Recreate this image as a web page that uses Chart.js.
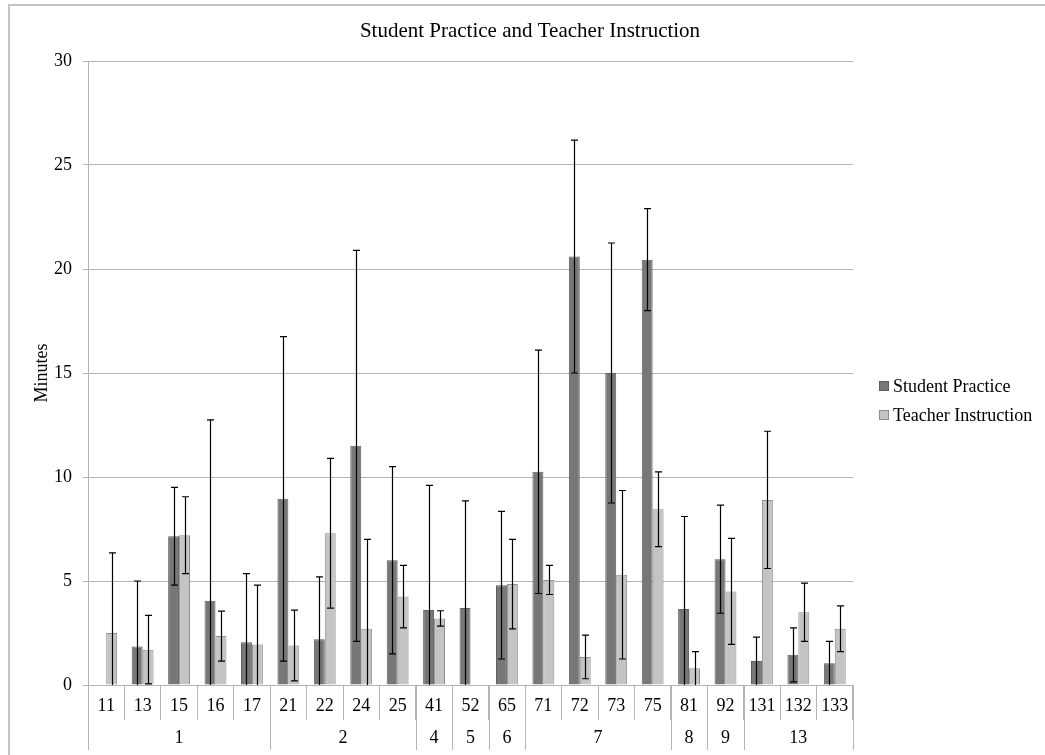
<!DOCTYPE html>
<html>
<head>
<meta charset="utf-8">
<script src="https://cdn.jsdelivr.net/npm/chart.js@4.4.1/dist/chart.umd.min.js"></script>
<style>
html,body{margin:0;padding:0;background:#fff}
#wrap{width:1045px;height:755px;position:relative}
</style>
</head>
<body>
<div id="wrap"><canvas id="c" width="1045" height="755"></canvas></div>
<script>
// categories (teacher id) and their groups (school)
const codes=['11','13','15','16','17','21','22','24','25','41','52','65','71','72','73','75','81','92','131','132','133'];
const groups=[['1',5],['2',4],['4',1],['5',1],['6',1],['7',4],['8',1],['9',1],['13',3]];
// means (minutes)
const practice=[null,1.85,7.15,4.05,2.05,8.95,2.2,11.5,6.0,3.6,3.7,4.8,10.25,20.6,15.0,20.45,3.65,6.05,1.15,1.45,1.05];
const instruction=[2.5,1.7,7.2,2.35,1.95,1.9,7.3,2.7,4.25,3.2,null,4.85,5.05,1.35,5.3,8.45,0.8,4.5,8.9,3.5,2.7];
// error bar half widths
const practiceErr=[null,3.15,2.35,8.7,3.3,7.8,3.0,9.4,4.5,6.0,5.15,3.55,5.85,5.6,6.25,2.45,4.45,2.6,1.15,1.3,1.05];
const instructionErr=[3.85,1.65,1.85,1.2,2.85,1.7,3.6,4.3,1.5,0.37,null,2.15,0.7,1.05,4.05,1.8,0.8,2.55,3.3,1.4,1.1];

const SERIF="'Liberation Serif','DejaVu Serif',serif";
const GRID='#b4b4b4';
const TITLE='Student Practice and Teacher Instruction';

const errorBars={
  id:'errorBars',
  afterDatasetsDraw(chart){
    const ctx=chart.ctx,y=chart.scales.y;
    const errs=[practiceErr,instructionErr];
    ctx.save();ctx.strokeStyle='#000';ctx.lineWidth=1.2;
    chart.data.datasets.forEach((ds,di)=>{
      chart.getDatasetMeta(di).data.forEach((bar,i)=>{
        const v=ds.data[i],e=errs[di][i];
        if(v==null||e==null)return;
        const x=Math.round(bar.x)+0.5;
        const hi=y.getPixelForValue(v+e);
        const lo=y.getPixelForValue(Math.max(v-e,0));
        ctx.beginPath();ctx.moveTo(x,hi);ctx.lineTo(x,lo);
        ctx.moveTo(x-3.5,hi);ctx.lineTo(x+3.5,hi);
        if(v-e>0.02){ctx.moveTo(x-3.5,lo);ctx.lineTo(x+3.5,lo);}
        ctx.stroke();
      });
    });
    ctx.restore();
  }
};

const extras={
  id:'extras',
  afterDraw(chart){
    const ctx=chart.ctx,a=chart.chartArea;
    const step=(a.right-a.left)/codes.length;
    ctx.save();
    // frame
    ctx.strokeStyle='#c4c4c4';ctx.lineWidth=2;
    ctx.beginPath();ctx.moveTo(9,755);ctx.lineTo(9,5);ctx.lineTo(1045,5);ctx.stroke();
    // title
    ctx.fillStyle='#000';ctx.textAlign='center';ctx.textBaseline='middle';
    ctx.font='21px '+SERIF;ctx.fillText(TITLE,530,31);
    // axis line continued through label table
    ctx.strokeStyle=GRID;ctx.lineWidth=1;
    ctx.beginPath();ctx.moveTo(a.left+0.5,a.bottom);ctx.lineTo(a.left+0.5,750);ctx.stroke();
    // group separators and labels
    ctx.font='18px '+SERIF;
    let k=0;
    groups.forEach(([g,n])=>{
      const x0=a.left+k*step,x1=a.left+(k+n)*step;
      ctx.beginPath();ctx.moveTo(Math.round(x1)+0.5,a.bottom);ctx.lineTo(Math.round(x1)+0.5,750);ctx.stroke();
      ctx.fillText(g,(x0+x1)/2,738);
      k+=n;
    });
    // legend
    const items=[['Student Practice',chart.data.datasets[0]],['Teacher Instruction',chart.data.datasets[1]]];
    ctx.textAlign='left';ctx.font='18px '+SERIF;
    items.forEach(([t,ds],i)=>{
      const ly=386+i*29;
      ctx.fillStyle=ds.backgroundColor;ctx.fillRect(879,ly-5,10,10);
      ctx.strokeStyle=ds.borderColor;ctx.strokeRect(879.5,ly-4.5,9,9);
      ctx.fillStyle='#000';ctx.fillText(t,893,ly+1);
    });
    ctx.restore();
  }
};

new Chart(document.getElementById('c'),{
  type:'bar',
  data:{labels:codes,datasets:[
    {label:'Student Practice',data:practice,backgroundColor:'#777777',borderColor:'#5f5f5f',borderWidth:1,categoryPercentage:0.6,barPercentage:1.0},
    {label:'Teacher Instruction',data:instruction,backgroundColor:'#c4c4c4',borderColor:'#8e8e8e',borderWidth:1,categoryPercentage:0.6,barPercentage:1.0}
  ]},
  options:{
    responsive:false,animation:false,devicePixelRatio:1,
    layout:{padding:{left:0,right:192,top:61,bottom:0}},
    plugins:{legend:{display:false},tooltip:{enabled:false},title:{display:false}},
    scales:{
      x:{
        grid:{offset:true,drawOnChartArea:false,tickLength:35,color:GRID},
        border:{color:GRID},
        ticks:{color:'#000',font:{family:SERIF,size:18},padding:-25,maxRotation:0,autoSkip:false},
        afterFit:s=>{s.height=70;}
      },
      y:{
        min:0,max:30,
        ticks:{stepSize:5,color:'#000',font:{family:SERIF,size:18},padding:11},
        grid:{color:GRID,tickLength:5},
        border:{color:GRID},
        title:{display:true,text:'Minutes',color:'#000',font:{family:SERIF,size:18},padding:{top:31,bottom:0}},
        afterFit:s=>{s.width=88;}
      }
    }
  },
  plugins:[errorBars,extras]
});
</script>
</body>
</html>
